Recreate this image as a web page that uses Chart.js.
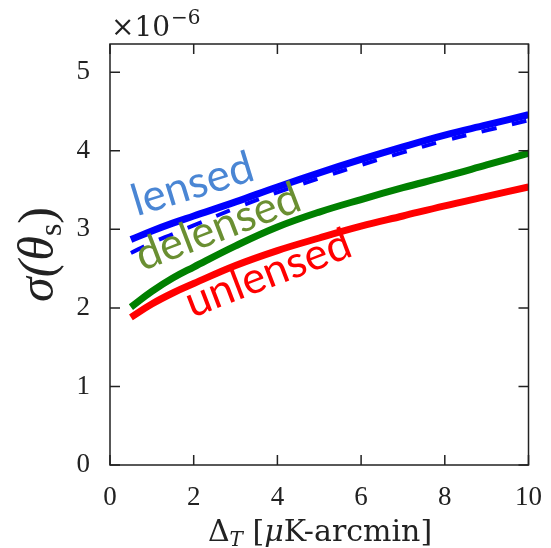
<!DOCTYPE html>
<html>
<head>
<meta charset="utf-8">
<script src="https://cdn.jsdelivr.net/npm/chart.js@4"></script>
<style>
  body { margin: 0; background: #fff; }
  canvas { display: block; }
</style>
</head>
<body>
<canvas id="sigmaChart" width="551" height="548"></canvas>
<script>
/*=========================================================
DATA
=========================================================*/

const noise = [0.5, 1, 1.5, 2, 3, 4, 5, 6, 7, 8, 9, 10];

const lensed = [2.87, 2.98, 3.08, 3.17, 3.35, 3.54, 3.72, 3.89, 4.05, 4.2, 4.33, 4.46];

const lensedDashed = [2.7, 2.83, 2.94, 3.05, 3.27, 3.47, 3.65, 3.82, 3.98, 4.13, 4.26, 4.39];

const delensed = [2.01, 2.21, 2.38, 2.52, 2.79, 3.03, 3.22, 3.38, 3.53, 3.67, 3.82, 3.97];

const unlensed = [1.88, 2.05, 2.19, 2.31, 2.54, 2.73, 2.89, 3.04, 3.17, 3.3, 3.42, 3.54];

const xTicks = [0, 2, 4, 6, 8, 10];

const yTicks = [0, 1, 2, 3, 4, 5];

/*=========================================================
HELPERS
=========================================================*/

function points(ys) {
  return noise.map((x, i) => ({ x: x, y: ys[i] }));
}

function drawRuns(ctx, runs, x, y) {
  // runs: [text, font, dy]
  let total = 0;

  runs.forEach((r) => {
    ctx.font = r[1];
    total += ctx.measureText(r[0]).width;
  });

  let cx = x - total / 2;

  runs.forEach((r) => {
    ctx.font = r[1];
    ctx.fillText(r[0], cx, y + r[2]);
    cx += ctx.measureText(r[0]).width;
  });
}

/*=========================================================
FRAME + LABELS PLUGIN
=========================================================*/

const serif = "'Liberation Serif', 'DejaVu Serif', serif";

const wideSerif = "'DejaVu Serif', 'Liberation Serif', serif";

const curveLabels = [
  { text: "lensed", x: 2.07, y: 3.4, angle: -17, size: 44, color: "#4a86d4" },
  { text: "delensed", x: 2.7, y: 2.86, angle: -21, size: 44, color: "#6a8f32" },
  { text: "unlensed", x: 3.9, y: 2.27, angle: -21, size: 44, color: "#ff0000" },
];

const framePlugin = {
  id: "frame",

  afterDatasetsDraw(chart) {
    const ctx = chart.ctx;
    const sx = chart.scales.x;
    const sy = chart.scales.y;

    ctx.save();
    ctx.textAlign = "center";
    ctx.textBaseline = "alphabetic";

    curveLabels.forEach((l) => {
      ctx.save();
      ctx.translate(sx.getPixelForValue(l.x), sy.getPixelForValue(l.y));
      ctx.rotate((l.angle * Math.PI) / 180);
      ctx.font = l.size + "px Lato, 'Open Sans', sans-serif";
      ctx.fillStyle = l.color;
      ctx.fillText(l.text, 0, 0);
      ctx.restore();
    });

    ctx.restore();
  },

  afterDraw(chart) {
    const ctx = chart.ctx;
    const a = chart.chartArea;
    const sx = chart.scales.x;
    const sy = chart.scales.y;
    const tl = 10;

    ctx.save();

    // box
    ctx.strokeStyle = "#222";
    ctx.lineWidth = 1.5;
    ctx.strokeRect(a.left, a.top, a.right - a.left, a.bottom - a.top);

    // inward ticks
    ctx.beginPath();

    xTicks.forEach((v) => {
      const px = sx.getPixelForValue(v);
      ctx.moveTo(px, a.bottom);
      ctx.lineTo(px, a.bottom - tl);
      ctx.moveTo(px, a.top);
      ctx.lineTo(px, a.top + tl);
    });

    yTicks.forEach((v) => {
      const py = sy.getPixelForValue(v);
      ctx.moveTo(a.left, py);
      ctx.lineTo(a.left + tl, py);
      ctx.moveTo(a.right, py);
      ctx.lineTo(a.right - tl, py);
    });

    ctx.stroke();

    // axis titles
    ctx.fillStyle = "#222";
    ctx.textAlign = "left";
    ctx.textBaseline = "alphabetic";

    drawRuns(
      ctx,
      [
        ["Δ", "30px " + wideSerif, 0],
        ["T", "italic 20px " + wideSerif, 5],
        [" [", "30px " + wideSerif, 0],
        ["μ", "italic 30px " + wideSerif, 0],
        ["K-arcmin]", "30px " + wideSerif, 0],
      ],
      320,
      541,
    );

    ctx.save();
    ctx.translate(53, (a.top + a.bottom) / 2);
    ctx.rotate(-Math.PI / 2);
    drawRuns(
      ctx,
      [
        ["σ(", "italic 50px " + serif, 0],
        ["θ", "italic 50px " + serif, 0],
        ["s", "32px " + serif, 8],
        [")", "50px " + serif, 0],
      ],
      0,
      0,
    );
    ctx.restore();

    // exponent
    ctx.font = "28px " + wideSerif;
    ctx.fillText("×10", 111, 36);
    const w = ctx.measureText("×10").width;
    ctx.font = "20px " + wideSerif;
    ctx.fillText("−6", 111 + w + 1, 24);

    ctx.restore();
  },
};

/*=========================================================
CHART
=========================================================*/

function lineSet(ys, color, width, dash, order) {
  return {
    data: points(ys),
    borderColor: color,
    backgroundColor: color,
    borderWidth: width,
    borderDash: dash,
    pointRadius: 0,
    tension: 0.4,
    fill: false,
    order: order,
  };
}

new Chart(document.getElementById("sigmaChart"), {
  type: "line",

  data: {
    datasets: [
      lineSet(lensed, "#0000ff", 7, [], 1),
      lineSet(lensedDashed, "#0000ff", 4, [15, 16], 2),
      lineSet(delensed, "#008000", 7, [], 1),
      lineSet(unlensed, "#ff0000", 7, [], 1),
    ],
  },

  options: {
    responsive: false,
    animation: false,

    layout: {
      padding: { top: 44, right: 20, left: 0, bottom: 0 },
    },

    plugins: {
      legend: { display: false },
      tooltip: { enabled: false },
    },

    scales: {
      x: {
        type: "linear",
        min: 0,
        max: 10,
        grid: { display: false },
        border: { display: false },
        afterFit: (s) => {
          s.height = 83;
        },
        afterBuildTicks: (s) => {
          s.ticks = xTicks.map((v) => ({ value: v }));
        },
        ticks: {
          padding: 9,
          color: "#222",
          font: { family: serif, size: 27 },
          maxRotation: 0,
        },
      },

      y: {
        type: "linear",
        min: 0,
        max: 5.36,
        grid: { display: false },
        border: { display: false },
        afterFit: (s) => {
          s.width = 110;
        },
        afterBuildTicks: (s) => {
          s.ticks = yTicks.map((v) => ({ value: v }));
        },
        ticks: {
          padding: 12,
          color: "#222",
          font: { family: serif, size: 27 },
        },
      },
    },
  },

  plugins: [framePlugin],
});
</script>
</body>
</html>
